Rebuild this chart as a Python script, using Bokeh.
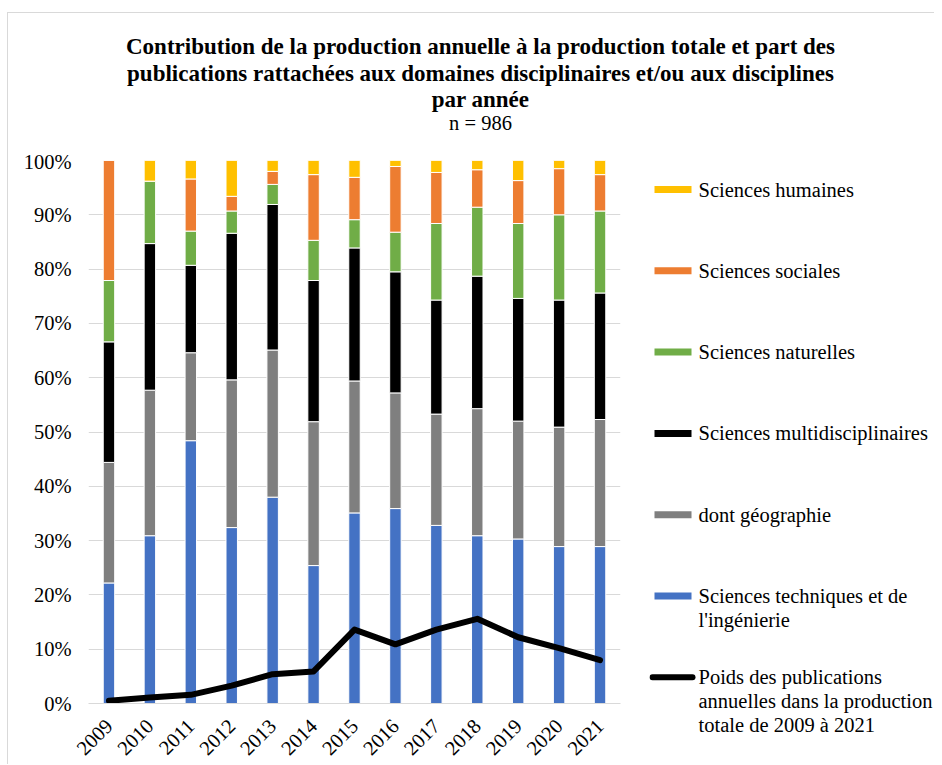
import math
from bokeh.plotting import figure
from bokeh.layouts import column, row
from bokeh.models import (ColumnDataSource, FactorRange, Range1d, FixedTicker,
                          NumeralTickFormatter, Label)
from bokeh.embed import file_html
from bokeh.resources import INLINE

FONT = "Liberation Serif"

years = ["2009", "2010", "2011", "2012", "2013", "2014", "2015",
         "2016", "2017", "2018", "2019", "2020", "2021"]

# shares (%) of each domain per year, bottom to top of the stack
techniques = [22.2, 30.9, 48.4, 32.4, 38.0, 25.4, 35.1, 35.9, 32.8, 30.9, 30.3, 28.9, 28.9]
geographie = [22.2, 26.8, 16.2, 27.2, 27.1, 26.5, 24.3, 21.3, 20.5, 23.4, 21.7, 22.0, 23.4]
multidisciplinaires = [22.2, 27.0, 16.1, 27.0, 26.8, 26.0, 24.5, 22.3, 21.0, 24.4, 22.6, 23.4, 23.3]
naturelles = [11.3, 11.5, 6.3, 4.1, 3.7, 7.4, 5.2, 7.3, 14.1, 12.7, 13.8, 15.7, 15.1]
sociales = [22.1, 0.0, 9.6, 2.7, 2.4, 12.1, 7.8, 12.1, 9.4, 6.9, 7.9, 8.5, 6.7]
humaines = [0.0, 3.8, 3.4, 6.6, 2.0, 2.6, 3.1, 1.1, 2.2, 1.7, 3.7, 1.5, 2.6]

# weight of annual publications in the total production (%)
poids = [0.5, 1.1, 1.6, 3.3, 5.4, 5.9, 13.6, 10.9, 13.6, 15.6, 12.2, 10.2, 8.0]

series_keys = ["techniques", "geographie", "multidisciplinaires", "naturelles", "sociales", "humaines"]
series_colors = ["#4472C4", "#7F7F7F", "#000000", "#70AD47", "#ED7D31", "#FFC000"]
y_ticks = [0, 0.1, 0.2, 0.3, 0.4, 0.5, 0.6, 0.7, 0.8, 0.9, 1.0]

title_lines = ["Contribution de la production annuelle à la production totale et part des",
               "publications rattachées aux domaines disciplinaires et/ou aux disciplines",
               "par année"]
subtitle = "n = 986"

# legend entries, top to bottom (label lines, colour, kind)
legend_labels = [["Sciences humaines"], ["Sciences sociales"], ["Sciences naturelles"],
                 ["Sciences multidisciplinaires"], ["dont géographie"],
                 ["Sciences techniques et de", "l'ingénierie"],
                 ["Poids des publications", "annuelles dans la production", "totale de 2009 à 2021"]]
legend_colors = ["#FFC000", "#ED7D31", "#70AD47", "#000000", "#7F7F7F", "#4472C4", "#000000"]
legend_kinds = ["bar", "bar", "bar", "bar", "bar", "bar", "line"]

# ---------------- main chart ----------------
data = {"years": years}
for k, vals in zip(series_keys, [techniques, geographie, multidisciplinaires, naturelles, sociales, humaines]):
    data[k] = [v / 100 for v in vals]
data["poids"] = [v / 100 for v in poids]
src = ColumnDataSource(data)

main = figure(width=641, height=614, x_range=FactorRange(*years), y_range=Range1d(0, 1),
              output_backend="svg", toolbar_location=None, frame_align=False,
              min_border_left=80, min_border_right=29, min_border_top=10, min_border_bottom=61)
main.outline_line_color = None
main.vbar_stack(series_keys, x="years", width=0.28, source=src, color=series_colors,
                line_color="white", line_width=1)
main.line(x="years", y="poids", source=src, line_color="black", line_width=6,
          line_join="round", line_cap="round")

main.yaxis.ticker = FixedTicker(ticks=y_ticks)
main.yaxis.formatter = NumeralTickFormatter(format="0%")
main.yaxis.axis_line_color = None
main.yaxis.major_tick_line_color = None
main.yaxis.minor_tick_line_color = None
main.yaxis.major_label_standoff = 11
main.xaxis.axis_line_color = "#d9d9d9"
main.xaxis.major_tick_line_color = None
main.xaxis.minor_tick_line_color = None
main.xaxis.major_label_orientation = math.pi / 4
main.xaxis.major_label_standoff = 13
for ax in (main.xaxis, main.yaxis):
    ax.major_label_text_font = FONT
    ax.major_label_text_font_size = "20.5px"
    ax.major_label_text_color = "#000000"
main.xgrid.grid_line_color = None
main.ygrid.grid_line_color = "#d9d9d9"
main.ygrid.grid_line_width = 1


def blank(w, h, xr, yr):
    f = figure(width=w, height=h, x_range=xr, y_range=yr, output_backend="svg",
               toolbar_location=None, x_axis_type=None, y_axis_type=None, min_border=0,
               frame_align=False)
    f.outline_line_color = None
    f.grid.visible = False
    return f


def add_text(fig, x, y, text, size="20.5px", style="normal", align="left", baseline="middle"):
    fig.add_layout(Label(x=x, y=y, text=text, text_font=FONT, text_font_size=size,
                         text_font_style=style, text_align=align, text_baseline=baseline,
                         text_color="black"))


# ---------------- title (page coordinates) ----------------
tf = blank(926, 137, Range1d(8, 934), Range1d(150, 13))
for t, yy in zip(title_lines, [46, 72.5, 98.5]):
    add_text(tf, 480, yy, t, size="23px", style="bold", align="center", baseline="alphabetic")
add_text(tf, 480, 122.5, subtitle, size="20.5px", align="center", baseline="alphabetic")

# ---------------- legend (page coordinates) ----------------
lf = blank(285, 614, Range1d(649, 934), Range1d(764, 150))
first_y = 189
pitch = 81.3
for i, (lines, col, kind) in enumerate(zip(legend_labels, legend_colors, legend_kinds)):
    cy = first_y + pitch * i
    if kind == "bar":
        lf.quad(left=[654], right=[691], top=[cy - 3.5], bottom=[cy + 3.5],
                fill_color=col, line_color=None)
    else:
        lf.line(x=[652, 692], y=[cy, cy], line_color=col, line_width=6, line_cap="round")
    for j, t in enumerate(lines):
        add_text(lf, 698, cy + 23.7 * j, t)

layout = column(tf, row(main, lf))
layout.styles = {"position": "absolute", "left": "7px", "top": "12px",
                 "border-left": "1px solid #d9d9d9", "border-top": "1px solid #d9d9d9"}

open("out.html", "w").write(file_html(layout, INLINE))
